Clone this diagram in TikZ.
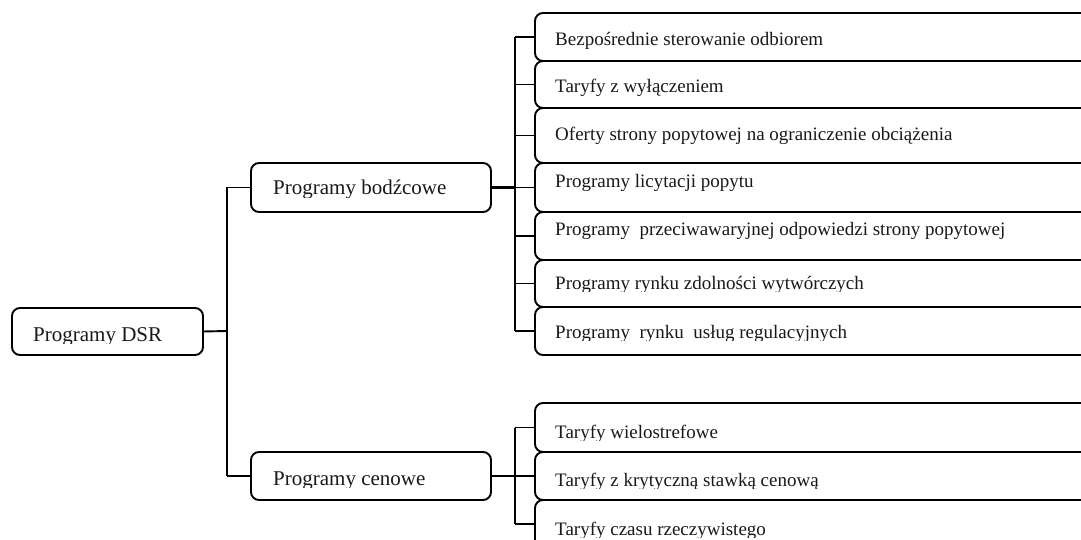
\documentclass[tikz,border=0pt]{standalone}
\usepackage{fontspec}
\setmainfont{Liberation Serif}
% label whose descenders are cut off just below the baseline
\newcommand{\cutlabel}[5]{%
  \begin{scope}
    \clip (#2-4,#3-40) rectangle (#2+620,#3+2.5);
    \node[lbl, font=\fontsize{#5}{#5}\selectfont] (#1) at (#2,#3) {#4};
  \end{scope}}
\begin{document}
\begin{tikzpicture}[x=1pt,y=-1pt,
  box/.style={draw=black, line width=1.9pt, rounded corners=8pt, fill=white,
    inner sep=0pt, outer sep=0pt, anchor=north west},
  lbl/.style={anchor=base west, inner sep=0pt, text=black!90},
  link/.style={draw=black, line width=1.9pt},
  biglink/.style={draw=black, line width=2.8pt}]
\useasboundingbox (0,0) rectangle (1081,540);
\clip (0,0) rectangle (1081,540);

% root and second level
\node[box, minimum width=191pt, minimum height=47pt] (dsr)  at (12,308) {};
\node[box, minimum width=240pt, minimum height=49pt] (bodz) at (251,163) {};
\node[box, minimum width=240pt, minimum height=48pt] (cen)  at (251,452) {};

% incentive programmes
\node[box, minimum width=570pt, minimum height=48pt] (b1) at (535,13) {};
\node[box, minimum width=570pt, minimum height=47pt] (b2) at (535,61) {};
\node[box, minimum width=570pt, minimum height=55pt] (b3) at (535,108) {};
\node[box, minimum width=570pt, minimum height=49pt] (b4) at (535,163) {};
\node[box, minimum width=570pt, minimum height=48pt] (b5) at (535,212) {};
\node[box, minimum width=570pt, minimum height=47pt] (b6) at (535,260) {};
\node[box, minimum width=570pt, minimum height=48pt] (b7) at (535,307) {};

% price-based programmes
\node[box, minimum width=570pt, minimum height=49pt] (c1) at (535,403) {};
\node[box, minimum width=570pt, minimum height=48pt] (c2) at (535,452) {};
\node[box, minimum width=570pt, minimum height=48pt] (c3) at (535,500) {};

% labels
\cutlabel{tdsr}{33}{341}{Programy DSR}{21}
\cutlabel{tbodz}{273}{195}{Programy bodźcowe}{21}
\cutlabel{tcen}{273}{485}{Programy cenowe}{21}

\cutlabel{t1}{555}{46}{Bezpośrednie sterowanie odbiorem}{19}
\cutlabel{t2}{555}{93}{Taryfy z wyłączeniem}{19}
\cutlabel{t3}{555}{141}{Oferty strony popytowej na ograniczenie obciążenia}{19}
\cutlabel{t4}{555}{188}{Programy licytacji popytu}{19}
\cutlabel{t5}{555}{236}{Programy\ \ przeciwawaryjnej odpowiedzi strony popytowej}{19}
\cutlabel{t6}{555}{289}{Programy rynku zdolności wytwórczych}{19}
\cutlabel{t7}{555}{338}{Programy\ \ rynku\ \ usług regulacyjnych}{19}

\cutlabel{u1}{555}{438}{Taryfy wielostrefowe}{19}
\cutlabel{u2}{555}{486}{Taryfy z krytyczną stawką cenową}{19}
\cutlabel{u3}{555}{535}{Taryfy czasu rzeczywistego}{19}

% root bracket
\coordinate (jr) at (227,331);
\draw[link] (dsr.east) -- (jr);
\draw[link] (jr |- bodz.west) -- (jr |- cen.west);
\draw[link] (jr |- bodz.west) -- (bodz.west);
\draw[link] (jr |- cen.west) -- (cen.west);

% incentive bracket
\coordinate (jb) at (515,187);
\draw[biglink] (bodz.east) -- (jb |- bodz.east);
\draw[link] (jb |- b1.west) -- (jb |- b7.west);
\foreach \n in {b1,b2,b3,b4,b5,b6,b7}
  \draw[link] (jb |- \n.west) -- (\n.west);

% price bracket
\coordinate (jc) at (515,476);
\draw[link] (cen.east) -- (jc |- cen.east);
\draw[link] (jc |- c1.west) -- (jc |- c3.west);
\foreach \n in {c1,c2,c3}
  \draw[link] (jc |- \n.west) -- (\n.west);
\end{tikzpicture}
\end{document}
